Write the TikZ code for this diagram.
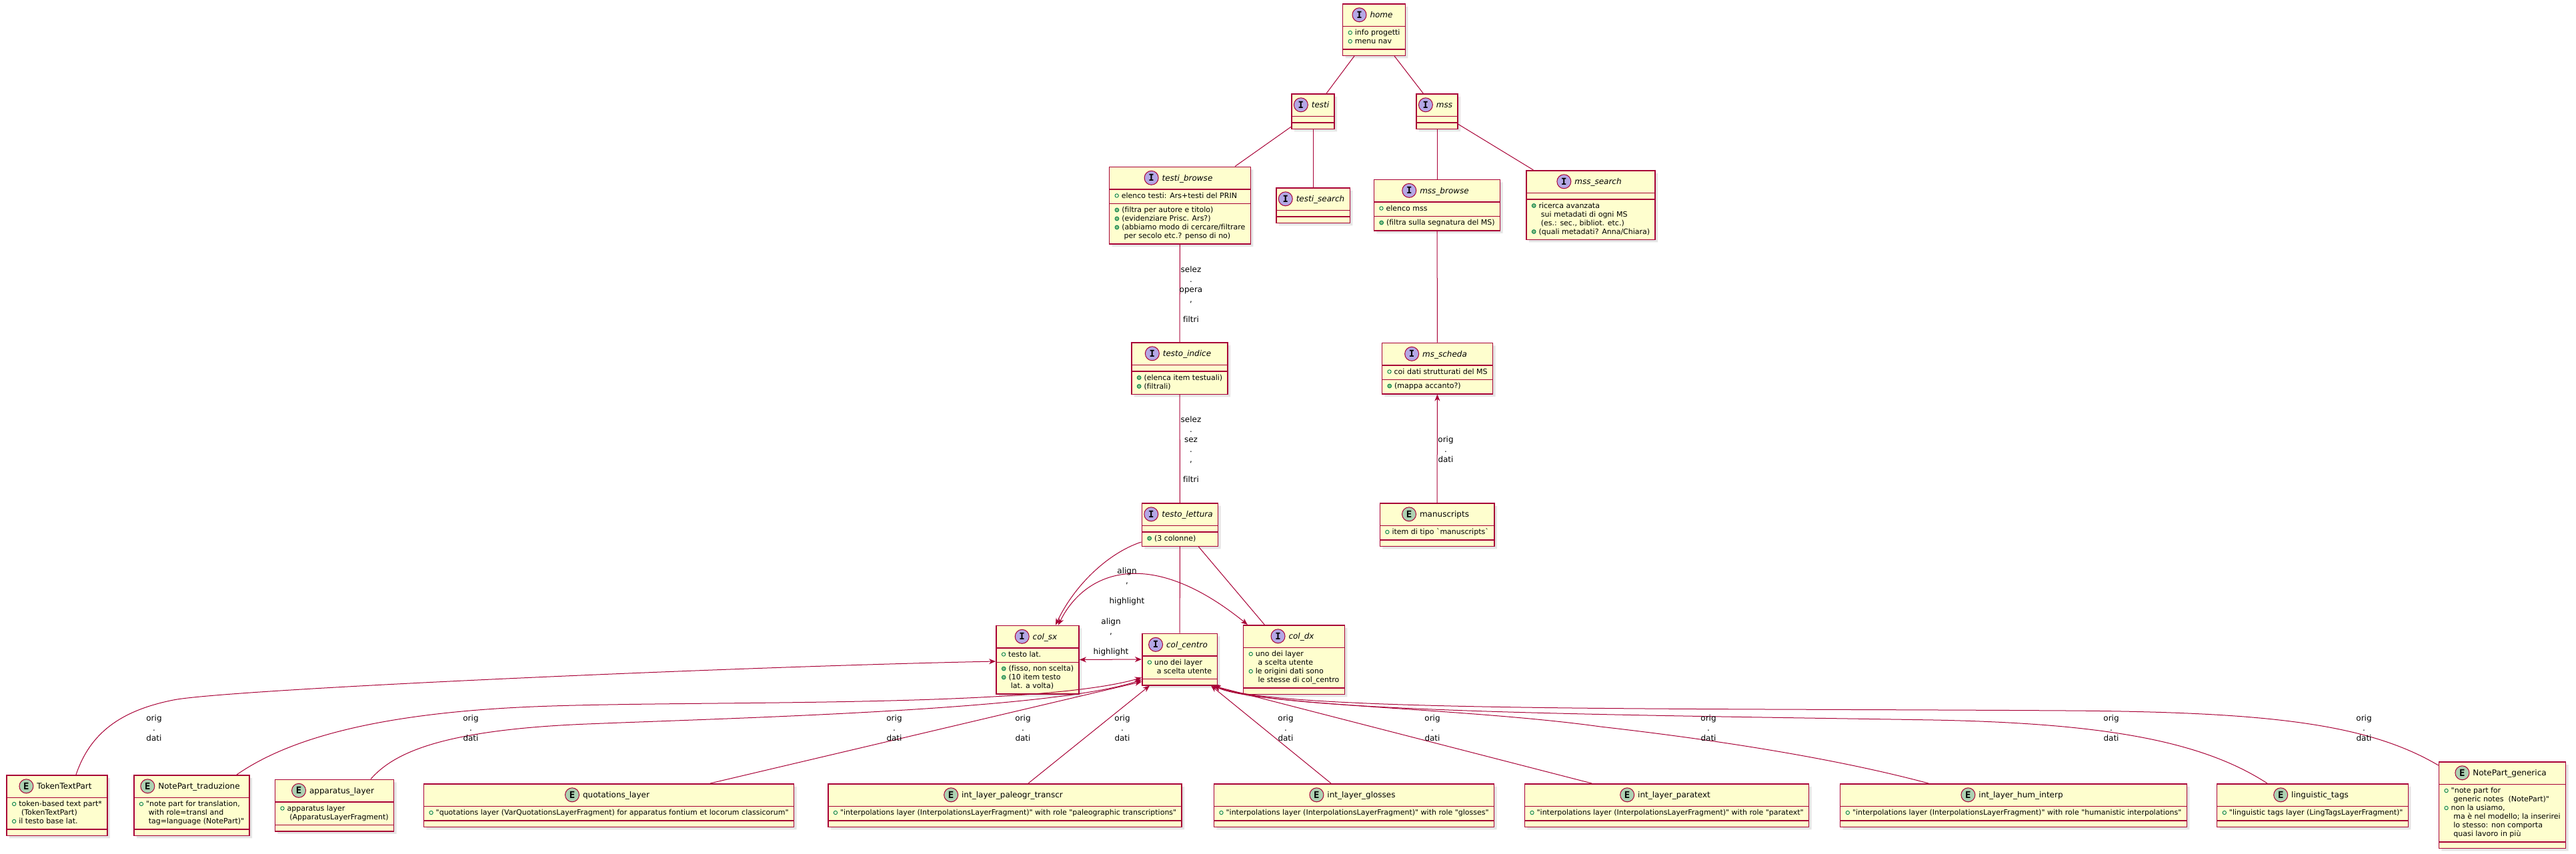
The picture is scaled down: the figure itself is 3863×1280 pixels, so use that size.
\documentclass[tikz,border=0pt]{standalone}
\usepackage{fontspec}
\setmainfont{DejaVu Sans}[Ligatures={TeXOff,CommonOff}]
\setmonofont{DejaVu Sans Mono}
\usepackage{tikz}
\usetikzlibrary{shapes.multipart,arrows.meta,calc,shadows}

\definecolor{umlred}{HTML}{A80036}
\definecolor{classfill}{HTML}{FEFECE}
\definecolor{ifacefill}{HTML}{B4A7E5}
\definecolor{entfill}{HTML}{ADD1B2}
\definecolor{fgreen}{HTML}{038048}
\definecolor{mfill}{HTML}{84BE84}

\newcommand{\iicon}{\tikz[baseline=-4.4pt]\node[circle,draw=umlred,fill=ifacefill,line width=1pt,minimum size=21pt,inner sep=0pt,font=\ttfamily\bfseries\fontsize{14}{14}\selectfont]{I};}
\newcommand{\eicon}{\tikz[baseline=-4.4pt]\node[circle,draw=umlred,fill=entfill,line width=1pt,minimum size=21pt,inner sep=0pt,font=\ttfamily\bfseries\fontsize{14}{14}\selectfont]{E};}
\newcommand{\ititle}[1]{\hspace*{-5pt}\iicon\hspace{5pt}{\fontsize{12}{14}\selectfont\itshape #1}\rule[-8.3pt]{0pt}{25pt}\hspace*{-5pt}}
\newcommand{\etitle}[1]{\hspace*{-5pt}\eicon\hspace{5pt}{\fontsize{12}{14}\selectfont #1}\rule[-8.3pt]{0pt}{25pt}\hspace*{-5pt}}
\newcommand{\fldic}{\tikz[baseline=-3.6pt]\draw[fgreen,line width=.9pt] (0,0) circle (2.7pt);\hspace{4pt}}
\newcommand{\mthic}{\tikz[baseline=-3.6pt]\draw[fgreen,fill=mfill,line width=.9pt] (0,0) circle (2.9pt);\hspace{4pt}}
\newcommand{\cont}{\hspace*{14pt}}
\newcommand{\mlist}[1]{\begin{tabular}{@{}l@{}}#1\end{tabular}}
\newcommand{\nomem}{\rule{0pt}{1pt}}

\begin{document}
\begin{tikzpicture}[x=1pt,y=-1pt,
    umlbox/.style={rectangle split, rectangle split parts=3, rectangle split part align={center,left,left},
      draw=umlred, line width=1.5pt, fill=classfill, inner xsep=8pt, inner ysep=3.5pt,
      font=\fontsize{11}{13}\selectfont,
      drop shadow={opacity=.2, shadow xshift=4pt, shadow yshift=-4pt}},
    iface/.style={umlbox},
    entity/.style={umlbox},
    link/.style={draw=umlred, line width=1pt},
    lbl/.style={font=\fontsize{12}{15}\selectfont, align=center, inner sep=0pt},
    >={Stealth[length=10pt,width=8pt,inset=3pt]}]
    \fill[white] (0,0) rectangle (3863,1280);

    \node[iface] (home) at (2060.5,44.5) {\ititle{home}\nodepart{two}\mlist{\fldic info progetti\\\fldic menu nav}\nodepart{three}\nomem};
    \node[iface] (testi) at (1969,167) {\ititle{testi}\nodepart{two}\nomem\nodepart{three}\nomem};
    \node[iface] (mss) at (2155,167) {\ititle{mss}\nodepart{two}\nomem\nodepart{three}\nomem};
    \node[iface] (testi_browse) at (1769.5,308) {\ititle{testi\_browse}\nodepart{two}\mlist{\fldic elenco testi: Ars+testi del PRIN}\nodepart{three}\mlist{\mthic (filtra per autore e titolo)\\\mthic (evidenziare Prisc. Ars?)\\\mthic (abbiamo modo di cercare/filtrare\\\cont per secolo etc.? penso di no)}};
    \node[iface] (testi_search) at (1969,308) {\ititle{testi\_search}\nodepart{two}\nomem\nodepart{three}\nomem};
    \node[iface] (mss_browse) at (2155,307.5) {\ititle{mss\_browse}\nodepart{two}\mlist{\fldic elenco mss}\nodepart{three}\mlist{\mthic (filtra sulla segnatura del MS)}};
    \node[iface] (mss_search) at (2385.5,307.5) {\ititle{mss\_search}\nodepart{two}\nomem\nodepart{three}\mlist{\mthic ricerca avanzata\\\cont sui metadati di ogni MS\\\cont (es.: sec., bibliot. etc.)\\\mthic (quali metadati? Anna/Chiara)}};
    \node[iface] (testo_indice) at (1769,552.5) {\ititle{testo\_indice}\nodepart{two}\nomem\nodepart{three}\mlist{\mthic (elenca item testuali)\\\mthic (filtrali)}};
    \node[iface] (ms_scheda) at (2155.5,552.5) {\ititle{ms\_scheda}\nodepart{two}\mlist{\fldic coi dati strutturati del MS}\nodepart{three}\mlist{\mthic (mappa accanto?)}};
    \node[iface] (testo_lettura) at (1769.5,787) {\ititle{testo\_lettura}\nodepart{two}\nomem\nodepart{three}\mlist{\mthic (3 colonne)}};
    \node[entity] (manuscripts) at (2155,787) {\etitle{manuscripts}\nodepart{two}\mlist{\fldic item di tipo `manuscripts`}\nodepart{three}\nomem};
    \node[iface] (col_sx) at (1556,989.5) {\ititle{col\_sx}\nodepart{two}\mlist{\fldic testo lat.}\nodepart{three}\mlist{\mthic (fisso, non scelta)\\\mthic (10 item testo\\\cont lat. a volta)}};
    \node[iface] (col_centro) at (1769,989) {\ititle{col\_centro}\nodepart{two}\mlist{\fldic uno dei layer\\\cont a scelta utente}\nodepart{three}\nomem};
    \node[iface] (col_dx) at (1940.5,989.5) {\ititle{col\_dx}\nodepart{two}\mlist{\fldic uno dei layer\\\cont a scelta utente\\\fldic le origini dati sono\\\cont le stesse di col\_centro}\nodepart{three}\nomem};

    \node[entity] (TokenTextPart) at (85.5,1208) {\etitle{TokenTextPart}\nodepart{two}\mlist{\fldic token-based text part*\\\cont (TokenTextPart)\\\fldic il testo base lat.}\nodepart{three}\nomem};
    \node[entity] (NotePart_traduzione) at (287.5,1208) {\etitle{NotePart\_traduzione}\nodepart{two}\mlist{\fldic "note part for translation,\\\cont with role=transl and\\\cont tag=language (NotePart)"}\nodepart{three}\nomem};
    \node[entity] (apparatus_layer) at (501.5,1208) {\etitle{apparatus\_layer}\nodepart{two}\mlist{\fldic apparatus layer\\\cont (ApparatusLayerFragment)}\nodepart{three}\nomem};
    \node[entity] (quotations_layer) at (913,1208) {\etitle{quotations\_layer}\nodepart{two}\mlist{\fldic "quotations layer (VarQuotationsLayerFragment) for apparatus fontium et locorum classicorum"}\nodepart{three}\nomem};
    \node[entity] (int_layer_paleogr_transcr) at (1507,1208) {\etitle{int\_layer\_paleogr\_transcr}\nodepart{two}\mlist{\fldic "interpolations layer (InterpolationsLayerFragment)" with role "paleographic transcriptions"}\nodepart{three}\nomem};
    \node[entity] (int_layer_glosses) at (2030.5,1208) {\etitle{int\_layer\_glosses}\nodepart{two}\mlist{\fldic "interpolations layer (InterpolationsLayerFragment)" with role "glosses"}\nodepart{three}\nomem};
    \node[entity] (int_layer_paratext) at (2499.5,1208) {\etitle{int\_layer\_paratext}\nodepart{two}\mlist{\fldic "interpolations layer (InterpolationsLayerFragment)" with role "paratext"}\nodepart{three}\nomem};
    \node[entity] (int_layer_hum_interp) at (3019.5,1208) {\etitle{int\_layer\_hum\_interp}\nodepart{two}\mlist{\fldic "interpolations layer (InterpolationsLayerFragment)" with role "humanistic interpolations"}\nodepart{three}\nomem};
    \node[entity] (linguistic_tags) at (3468,1208) {\etitle{linguistic\_tags}\nodepart{two}\mlist{\fldic "linguistic tags layer (LingTagsLayerFragment)"}\nodepart{three}\nomem};
    \node[entity] (NotePart_generica) at (3752.5,1207.5) {\etitle{NotePart\_generica}\nodepart{two}\mlist{\fldic "note part for\\\cont generic notes\ \ (NotePart)"\\\fldic non la usiamo,\\\cont ma è nel modello; la inserirei\\\cont lo stesso: non comporta\\\cont quasi lavoro in più}\nodepart{three}\nomem};

    \draw[link] (home) -- (testi);
    \draw[link] (home) -- (mss);
    \draw[link] (testi) -- (testi_browse);
    \draw[link] (testi) -- (testi_search);
    \draw[link] (mss) -- (mss_browse);
    \draw[link] (mss) -- (mss_search);
    \draw[link] (testi_browse) -- (testo_indice);
    \draw[link] (mss_browse) -- (ms_scheda);
    \draw[link] (testo_indice) -- (testo_lettura);
    \draw[link,->] (manuscripts) -- (ms_scheda);
    \draw[link] (testo_lettura) -- (col_centro);
    \draw[link] (testo_lettura) -- (col_dx);
    \draw[link,->] ($(testo_lettura.south west)+(0,-7)$) .. controls (1660,830) and (1610,880) .. ($(col_sx.north)+(27,0)$);
    \draw[link,<->] ($(col_sx.north)+(31,0)$) .. controls (1625,860) and (1720,815) .. ($(col_dx.north west)+(7,0)$);
    \draw[link,<->] (col_sx.east) -- (col_centro.west);

    \draw[link,->] ($(TokenTextPart.north)+(28.5,0)$) .. controls (135,1100) and (180,1066) .. (260,1050) .. controls (340,1034) and (1100,1000) .. ($(col_sx.west)+(0,2.5)$);
    \draw[link,->] ($(NotePart_traduzione.north)+(67.5,0)$) .. controls (430,1110) and (560,1070) .. (800,1060) .. controls (1040,1050) and (1550,1063) .. ($(col_centro.south west)+(0,-12)$);
    \draw[link,->] ($(apparatus_layer.north)+(54.5,0)$) .. controls (590,1130) and (660,1095) .. (880,1086) .. controls (1100,1077) and (1580,1065) .. ($(col_centro.south west)+(0,-9)$);
    \draw[link,->] ($(quotations_layer.north)+(152,0)$) -- ($(col_centro.south west)+(0,-6)$);
    \draw[link,->] ($(int_layer_paleogr_transcr.north)+(35,0)$) -- ($(col_centro.south west)+(12,0)$);
    \draw[link,->] ($(int_layer_glosses.north)+(-34.5,0)$) -- ($(col_centro.south east)+(-10,0)$);
    \draw[link,->] ($(int_layer_paratext.north)+(-112.5,0)$) -- ($(col_centro.south east)+(-8,0)$);
    \draw[link,->] ($(int_layer_hum_interp.north)+(-127.5,0)$) .. controls (2780,1145) and (2620,1115) .. (2400,1090) .. controls (2200,1062) and (1880,1058) .. ($(col_centro.south east)+(-6,0)$);
    \draw[link,->] ($(linguistic_tags.north)+(-68,0)$) .. controls (3300,1110) and (3150,1085) .. (2900,1080) .. controls (2400,1072) and (1920,1068) .. ($(col_centro.south east)+(-6,0)$);
    \draw[link,->] ($(NotePart_generica.north west)+(0,6)$) .. controls (3550,1085) and (3400,1068) .. (3100,1066) .. controls (2500,1062) and (1920,1068) .. ($(col_centro.south east)+(-6,0)$);

    \node[lbl] (l_selez1) at (1786,441) {selez\\.\\opera\\,\\[15pt]filtri};
    \node[lbl] (l_selez2) at (1786,674) {selez\\.\\sez\\.\\,\\[15pt]filtri};
    \node[lbl] (l_orig_ms) at (2168,674) {orig\\.\\dati};
    \node[lbl] (l_align1) at (1690,880) {align\\,\\[15pt]highlight};
    \node[lbl] (l_align2) at (1666,955.5) {align\\,\\[15pt]highlight};
    \foreach \lx [count=\i] in {231,706,1341,1534,1683,1928,2148,2562,3166,3545}
        \node[lbl] (l_orig\i) at (\lx,1092.5) {orig\\.\\dati};
\end{tikzpicture}
\end{document}
